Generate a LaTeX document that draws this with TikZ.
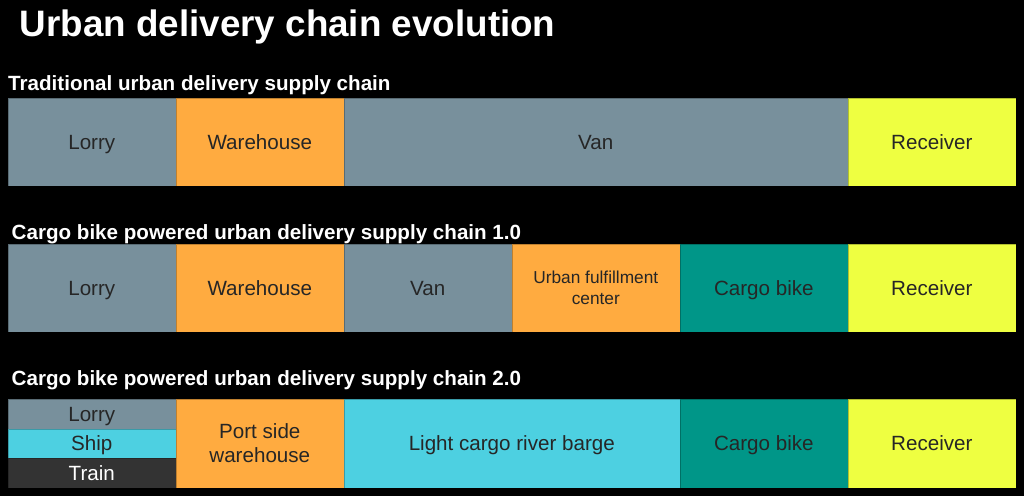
\documentclass[tikz,border=0pt]{standalone}
\usepackage{fontspec}
\setmainfont{Liberation Sans}
\definecolor{bggray}{HTML}{78909C}
\definecolor{orng}{HTML}{FFAB40}
\definecolor{tealc}{HTML}{009688}
\definecolor{yell}{HTML}{EEFF41}
\definecolor{cyanc}{HTML}{4DD0E1}
\definecolor{darkc}{HTML}{333333}
\definecolor{txt}{HTML}{262626}
\tikzset{
  cell/.style={rectangle, inner sep=0pt, anchor=north west, minimum width=#1,
    minimum height=88.5pt, text=txt, align=center,
    font=\fontsize{20.6}{24}\selectfont, draw=black, draw opacity=0.25, line width=0.6pt},
  oneline/.style={text height=14.8pt, text depth=0pt},
  subcell/.style={rectangle, inner sep=0pt, anchor=north west, minimum width=168pt,
    minimum height=29.5pt, text=txt, align=center, text height=14.8pt, text depth=0pt,
    font=\fontsize{20.6}{24}\selectfont, draw=black, draw opacity=0.25, line width=0.6pt},
  heading/.style={anchor=base west, inner sep=0pt, text=white,
    font=\bfseries\fontsize{20.6}{24}\selectfont},
}
\begin{document}
\begin{tikzpicture}[x=1pt,y=-1pt]
\fill[black] (0,0) rectangle (1024,496);
\useasboundingbox (0,0) rectangle (1024,496);
\node[anchor=base west, inner sep=0pt, text=white, font=\bfseries\fontsize{36.8}{44}\selectfont] (title) at (19.5,36.3) {Urban delivery chain evolution};
% Row 1
\node[heading] (h1) at (8,90.8) {Traditional urban delivery supply chain};
\node[cell=168pt, oneline, fill=bggray] (r1a) at (7.5,97.5) {Lorry};
\node[cell=168pt, oneline, fill=orng] (r1b) at (175.5,97.5) {Warehouse};
\node[cell=504pt, oneline, fill=bggray] (r1c) at (343.5,97.5) {Van};
\node[cell=168pt, oneline, fill=yell] (r1d) at (847.5,97.5) {Receiver};
% Row 2
\node[heading] (h2) at (11.5,239.5) {Cargo bike powered urban delivery supply chain 1.0};
\node[cell=168pt, oneline, fill=bggray] (r2a) at (7.5,243.5) {Lorry};
\node[cell=168pt, oneline, fill=orng] (r2b) at (175.5,243.5) {Warehouse};
\node[cell=168pt, oneline, fill=bggray] (r2c) at (343.5,243.5) {Van};
\node[cell=168pt, fill=orng, font=\fontsize{17.3}{21.5}\selectfont] (r2d) at (511.5,243.5) {Urban fulfillment\\center};
\node[cell=168pt, oneline, fill=tealc] (r2e) at (679.5,243.5) {Cargo bike};
\node[cell=168pt, oneline, fill=yell] (r2f) at (847.5,243.5) {Receiver};
% Row 3
\node[heading] (h3) at (11.5,385.5) {Cargo bike powered urban delivery supply chain 2.0};
\node[subcell, fill=bggray] (r3a1) at (7.5,399) {Lorry};
\node[subcell, fill=cyanc] (r3a2) at (7.5,428.5) {Ship};
\node[subcell, fill=darkc, text=white] (r3a3) at (7.5,458) {Train};
\node[cell=168pt, fill=orng] (r3b) at (175.5,399) {Port side\\warehouse};
\node[cell=336pt, oneline, fill=cyanc] (r3c) at (343.5,399) {Light cargo river barge};
\node[cell=168pt, oneline, fill=tealc] (r3d) at (679.5,399) {Cargo bike};
\node[cell=168pt, oneline, fill=yell] (r3e) at (847.5,399) {Receiver};
\end{tikzpicture}
\end{document}
